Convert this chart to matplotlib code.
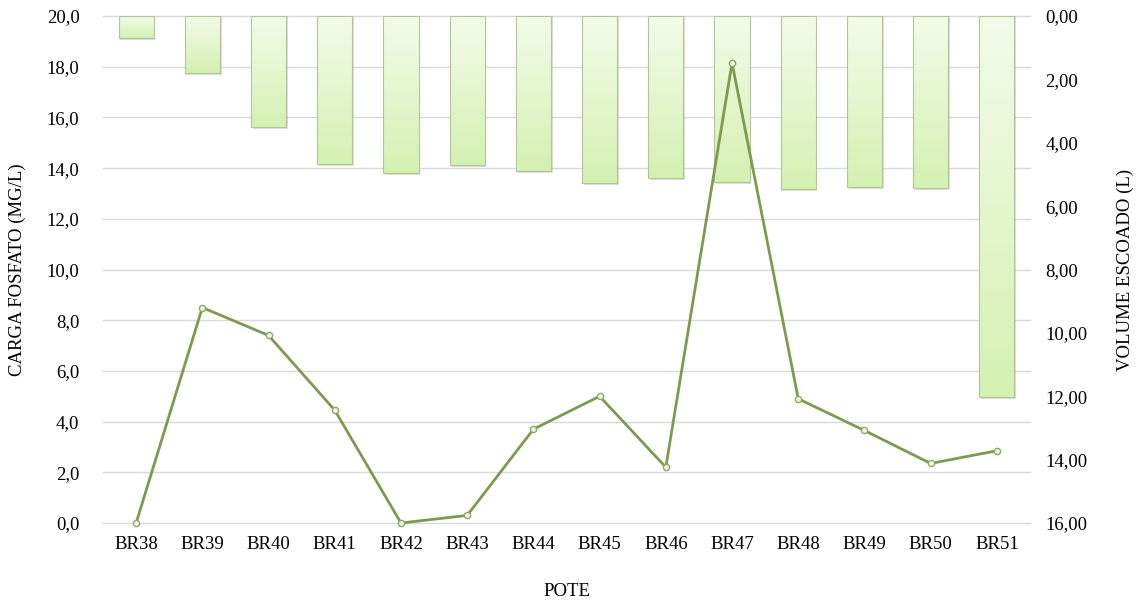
import numpy as np
import matplotlib
matplotlib.use("Agg")
import matplotlib.pyplot as plt
from matplotlib.colors import LinearSegmentedColormap

# Data
potes = ["BR38", "BR39", "BR40", "BR41", "BR42", "BR43", "BR44",
         "BR45", "BR46", "BR47", "BR48", "BR49", "BR50", "BR51"]
volume_escoado = [0.70, 1.80, 3.50, 4.67, 4.95, 4.70, 4.89,
                  5.27, 5.11, 5.24, 5.46, 5.40, 5.43, 12.02]
carga_fosfato = [0.0, 8.5, 7.4, 4.45, 0.0, 0.3, 3.7,
                 5.0, 2.2, 18.15, 4.9, 3.65, 2.35, 2.85]

left_ticks = [0, 2, 4, 6, 8, 10, 12, 14, 16, 18, 20]
right_ticks = [0, 2, 4, 6, 8, 10, 12, 14, 16]

plt.rcParams['font.family'] = ['Liberation Serif', 'DejaVu Serif']
FS = 13.5
line_color = "#7d9b4e"
grid_color = "#d9d9d9"

fig = plt.figure(figsize=(11.41, 6.02), dpi=100)
ax = fig.add_axes([0.0903, 0.1312, 0.8124, 0.8422])
ax2 = ax.twinx()

x = np.arange(len(potes))

# Left axis: phosphate load, with horizontal grid
ax.set_ylim(0, 20)
ax.set_yticks(left_ticks)
ax.set_yticklabels([f"{v:.1f}".replace(".", ",") for v in left_ticks], fontsize=FS)
ax.yaxis.grid(True, color=grid_color, linewidth=1.0)
for gl in ax.get_ygridlines():
    gl.set_clip_on(False)
ax.set_axisbelow(True)
ax.set_xlim(-0.5, len(potes) - 0.5)
ax.set_xticks(x)
ax.set_xticklabels(potes, fontsize=FS)
ax.tick_params(axis="both", length=0)
ax.tick_params(axis="y", pad=17)
ax.tick_params(axis="x", pad=9)
for s in ax.spines.values():
    s.set_visible(False)
ax.set_ylabel("CARGA FOSFATO (MG/L)", fontsize=FS, va="center")
ax.yaxis.set_label_coords(-0.092, 0.5)
ax.set_xlabel("POTE", fontsize=FS, va="center")
ax.xaxis.set_label_coords(0.5, -0.136)

# Right axis: runoff volume, inverted so bars hang from the top
bar_w = 0.53
bars = ax2.bar(x, volume_escoado, width=bar_w, facecolor="none",
               edgecolor="#b3c69a", linewidth=0.8, zorder=2)
grad_cmap = LinearSegmentedColormap.from_list("bar_grad", ["#f4fbea", "#d4f1b2"])
grad = np.linspace(0, 1, 256).reshape(-1, 1)
for rect, h in zip(bars, volume_escoado):
    x0 = rect.get_x()
    x1 = x0 + rect.get_width()
    shadow = plt.Rectangle((x0 + 0.025, 0), x1 - x0, h + 0.06,
                           facecolor="#9aa890", alpha=0.35, edgecolor="none",
                           zorder=1)
    ax2.add_patch(shadow)
    im = ax2.imshow(grad, cmap=grad_cmap, aspect="auto", origin="upper",
                    extent=(x0, x1, h, 0), zorder=1.5, interpolation="bicubic")
    im.set_clip_path(rect)

# Phosphate line drawn above the bars, in left-axis coordinates
ax2.plot(x, carga_fosfato, color=line_color, linewidth=2.0,
         marker="o", markersize=4.5, markerfacecolor="#eef3e4",
         markeredgecolor="#8fa866", markeredgewidth=1.0,
         transform=ax.transData, zorder=3, clip_on=False)

ax2.set_ylim(16, 0)
ax2.set_yticks(right_ticks)
ax2.set_yticklabels([f"{v:.2f}".replace(".", ",") for v in right_ticks], fontsize=FS)
ax2.set_xlim(-0.5, len(potes) - 0.5)
ax2.tick_params(axis="y", length=0, pad=11)
for s in ax2.spines.values():
    s.set_visible(False)
ax2.set_ylabel("VOLUME ESCOADO (L)", fontsize=FS, va="center")
ax2.yaxis.set_label_coords(1.1025, 0.5)

fig.savefig("out.png", dpi=100, facecolor="white")
